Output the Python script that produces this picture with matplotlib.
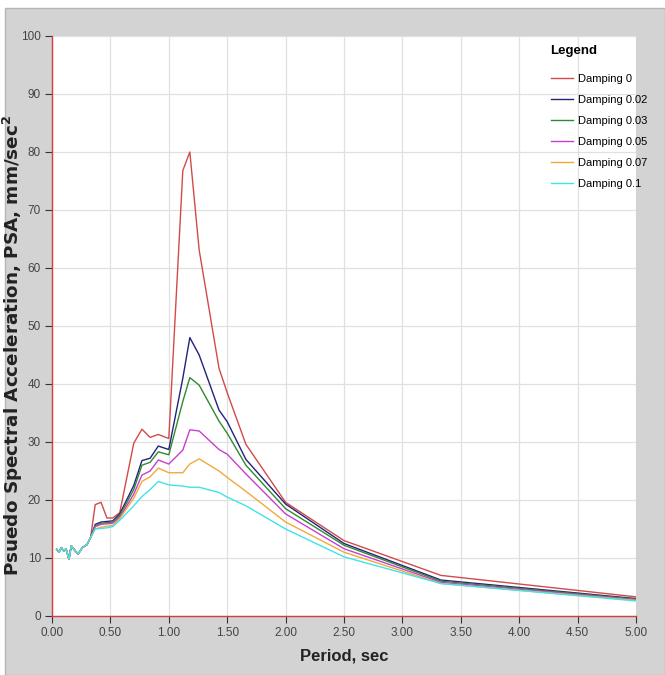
import matplotlib
matplotlib.use("Agg")
import matplotlib.pyplot as plt
from matplotlib import font_manager
from matplotlib.patches import Rectangle

names = {f.name for f in font_manager.fontManager.ttflist}
narrow = 'Liberation Sans Narrow' if 'Liberation Sans Narrow' in names else 'Liberation Sans'
plt.rcParams['font.family'] = [narrow, 'DejaVu Sans']

# ---- data ----
period = [0.04, 0.06, 0.08, 0.10, 0.12, 0.145, 0.165, 0.20, 0.225, 0.26, 0.30, 0.33,
          0.37, 0.42, 0.47, 0.52, 0.58, 0.70, 0.77, 0.84, 0.91, 1.00, 1.12, 1.18,
          1.26, 1.43, 1.50, 1.66, 2.00, 2.50, 3.33, 5.00]
early = [11.5, 11.0, 11.8, 11.2, 11.6, 9.8, 12.1, 11.2, 10.7, 11.8, 12.3, 13.5]

d0    = early + [19.2, 19.6, 16.9, 16.9, 17.8, 29.8, 32.2, 30.8, 31.3, 30.6, 76.8, 80.0,
                 63.1, 42.7, 38.5, 29.6, 19.6, 13.0, 7.0, 3.3]
d002  = early + [15.8, 16.2, 16.3, 16.4, 17.6, 22.5, 26.8, 27.2, 29.3, 28.7, 41.0, 48.0,
                 45.0, 35.5, 33.5, 27.0, 19.3, 12.5, 6.2, 3.0]
d003  = early + [15.6, 16.0, 16.1, 16.2, 17.3, 21.8, 26.0, 26.5, 28.3, 27.8, 37.0, 41.1,
                 39.8, 33.6, 31.5, 26.0, 18.5, 12.2, 6.0, 2.9]
d005  = early + [15.4, 15.8, 15.9, 16.0, 17.0, 21.0, 24.3, 25.0, 26.9, 26.2, 28.6, 32.1,
                 31.9, 28.7, 27.9, 24.5, 17.6, 11.6, 5.8, 2.8]
d007  = early + [15.0, 15.3, 15.5, 15.6, 16.8, 20.3, 23.2, 24.0, 25.5, 24.7, 24.7, 26.2,
                 27.1, 25.0, 23.9, 21.5, 16.2, 11.0, 5.6, 2.7]
d010  = early + [15.0, 15.1, 15.2, 15.4, 16.5, 19.0, 20.6, 21.8, 23.2, 22.6, 22.4, 22.2,
                 22.2, 21.3, 20.5, 19.0, 15.0, 10.2, 5.6, 2.6]

labels = ['Damping 0', 'Damping 0.02', 'Damping 0.03', 'Damping 0.05', 'Damping 0.07', 'Damping 0.1']
series = [d0, d002, d003, d005, d007, d010]
colors = ['#d24a4a', '#22227a', '#2f8a2f', '#c63fd0', '#f2a93b', '#3fe3ea']

xticks = [0.0, 0.5, 1.0, 1.5, 2.0, 2.5, 3.0, 3.5, 4.0, 4.5, 5.0]
yticks = [0, 10, 20, 30, 40, 50, 60, 70, 80, 90, 100]

# ---- figure ----
fig = plt.figure(figsize=(6.65, 6.75), dpi=100)
fig.patch.set_facecolor('white')
bg = Rectangle((5/665, 0), 1 - 5/665, 1 - 8/675, transform=fig.transFigure,
               facecolor='#d3d3d3', edgecolor='#b5b5b5', linewidth=1.0, zorder=-10)
fig.patches.append(bg)

ax = fig.add_axes([52/665, 59/675, 584/665, 580/675], zorder=1)
ax.set_facecolor('white')

for y, c, l in zip(series, colors, labels):
    ax.plot(period, y, color=c, lw=1.0, label=l)

ax.set_xlim(0, 5)
ax.set_ylim(0, 100)
ax.set_xticks(xticks)
ax.set_xticklabels([f'{v:.2f}' for v in xticks])
ax.set_yticks(yticks)
ax.grid(True, color='#e0e0e0', lw=0.9)
ax.set_axisbelow(True)
for s in ['top', 'right']:
    ax.spines[s].set_visible(False)
for s in ['left', 'bottom']:
    ax.spines[s].set_color('#d04040')
    ax.spines[s].set_linewidth(1.0)
ax.tick_params(direction='out', length=5, width=0.8, color='#333333',
               labelsize=8.5, labelcolor='#444444', pad=3)

ax.set_xlabel('Period, sec', fontsize=12, fontweight='bold', color='#222222')
ax.xaxis.set_label_coords(0.5, -0.056)
ax.xaxis.label.set_va('top')
ax.set_ylabel('Psuedo Spectral Acceleration, PSA, mm/sec$^{\\mathbf{2}}$', fontsize=13.2,
              fontweight='bold', color='#222222', family='DejaVu Sans')
ax.yaxis.set_label_coords(-0.046, 0.467)

leg = ax.legend(loc='upper left', bbox_to_anchor=(0.846, 0.992), frameon=False,
                title='Legend', fontsize=8, handlelength=2.0, handletextpad=0.45,
                labelspacing=1.0, borderaxespad=0)
leg.get_title().set_fontweight('bold')
leg.get_title().set_fontsize(9.5)
leg._legend_box.align = 'left'
leg._legend_box.sep = 12

fig.savefig('out.png', dpi=100, facecolor=fig.get_facecolor())
